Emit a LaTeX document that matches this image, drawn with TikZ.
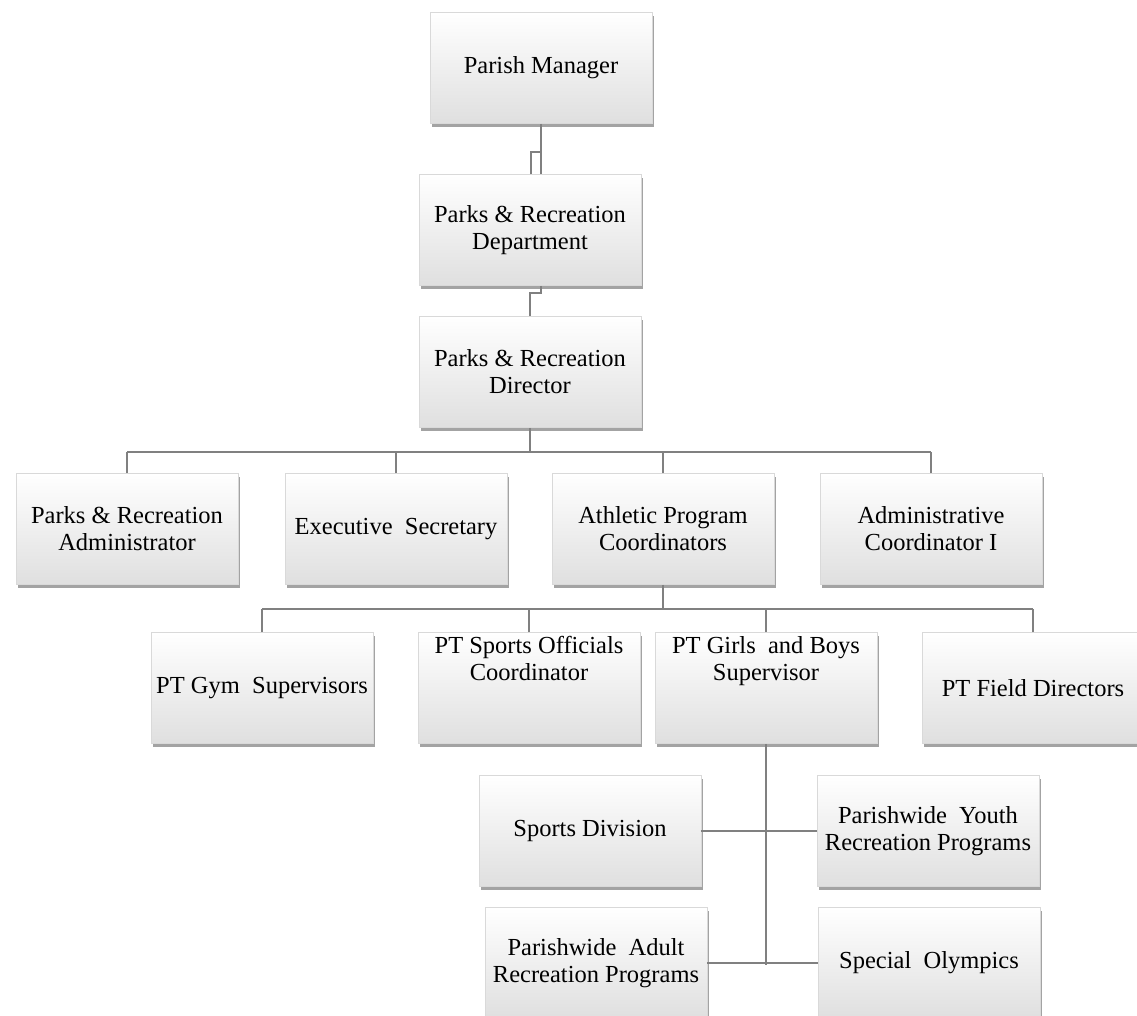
\documentclass[tikz,border=0pt]{standalone}
\usepackage{fontspec}
\setmainfont{Liberation Serif}
\usetikzlibrary{shadows}
\definecolor{linegray}{RGB}{128,128,128}
\tikzset{
  orgbox/.style={draw=gray!30, line width=0.6pt, top color=white, middle color=white, bottom color=gray!25,
    minimum width=222pt, minimum height=111pt, align=center, inner sep=2pt,
    font=\fontsize{24.5pt}{27pt}\selectfont,
    drop shadow={shadow xshift=1.5pt, shadow yshift=-3.5pt, fill=gray!80, opacity=0.9}},
  conn/.style={draw=linegray, line width=1.3pt}
}
\begin{document}
\begin{tikzpicture}[x=1pt, y=-1pt]
\useasboundingbox (0,0) rectangle (1137,1016);
\clip (0,0) rectangle (1137,1016);
% boxes
\node[orgbox] (pm)   at (541,68)  {Parish Manager};
\node[orgbox] (dept) at (530,230) {Parks \& Recreation\\Department};
\node[orgbox] (dir)  at (530,372) {Parks \& Recreation\\Director};
\node[orgbox] (adm)  at (127,529) {Parks \& Recreation\\Administrator};
\node[orgbox] (exs)  at (396,529) {Executive~ Secretary};
\node[orgbox] (apc)  at (663,529) {Athletic Program\\Coordinators};
\node[orgbox] (adc)  at (931,529) {Administrative\\Coordinator I};
\node[orgbox] (gym)  at (262,688) {PT Gym~ Supervisors};
\node[orgbox] (spo)  at (529,688) {PT Sports Officials\\Coordinator\\[33pt]\mbox{}};
\node[orgbox] (gb)   at (766,688) {PT Girls~ and Boys\\Supervisor\\[33pt]\mbox{}};
\node[orgbox] (fld)  at (1033,688) {PT Field Directors};
\node[orgbox] (sd)   at (590,831) {Sports Division};
\node[orgbox] (yth)  at (928,831) {Parishwide~ Youth\\Recreation Programs};
\node[orgbox] (adl)  at (596,963) {Parishwide~ Adult\\Recreation Programs};
\node[orgbox] (so)   at (929,963) {Special~ Olympics};
% helper coordinates
\coordinate (j1) at (541,152);
\coordinate (j2) at (541,293);
\coordinate (b1) at (530,452);
\coordinate (b2) at (663,609);
\coordinate (b3) at (766,965);
% connectors
\draw[conn] (pm.south) -- (pm.south |- dept.north);
\draw[conn] ([xshift=1pt]dept.north) |- (j1);
\draw[conn] (dept.south -| j2) -- (j2) -| (dir.north);
\draw[conn] (dir.south) -- (b1);
\draw[conn] (adm.north |- b1) -- (adc.north |- b1);
\foreach \n in {adm,exs,apc,adc} \draw[conn] (\n.north) -- (\n.north |- b1);
\draw[conn] (apc.south) -- (b2);
\draw[conn] (gym.north |- b2) -- (fld.north |- b2);
\foreach \n in {gym,spo,gb,fld} \draw[conn] (\n.north) -- (\n.north |- b2);
\draw[conn] (gb.south) -- (b3);
\draw[conn] (sd.east) -- (yth.west);
\draw[conn] (adl.east) -- (adl.east -| b3);
\draw[conn] (so.west) -- (so.west -| b3);
\end{tikzpicture}
\end{document}
